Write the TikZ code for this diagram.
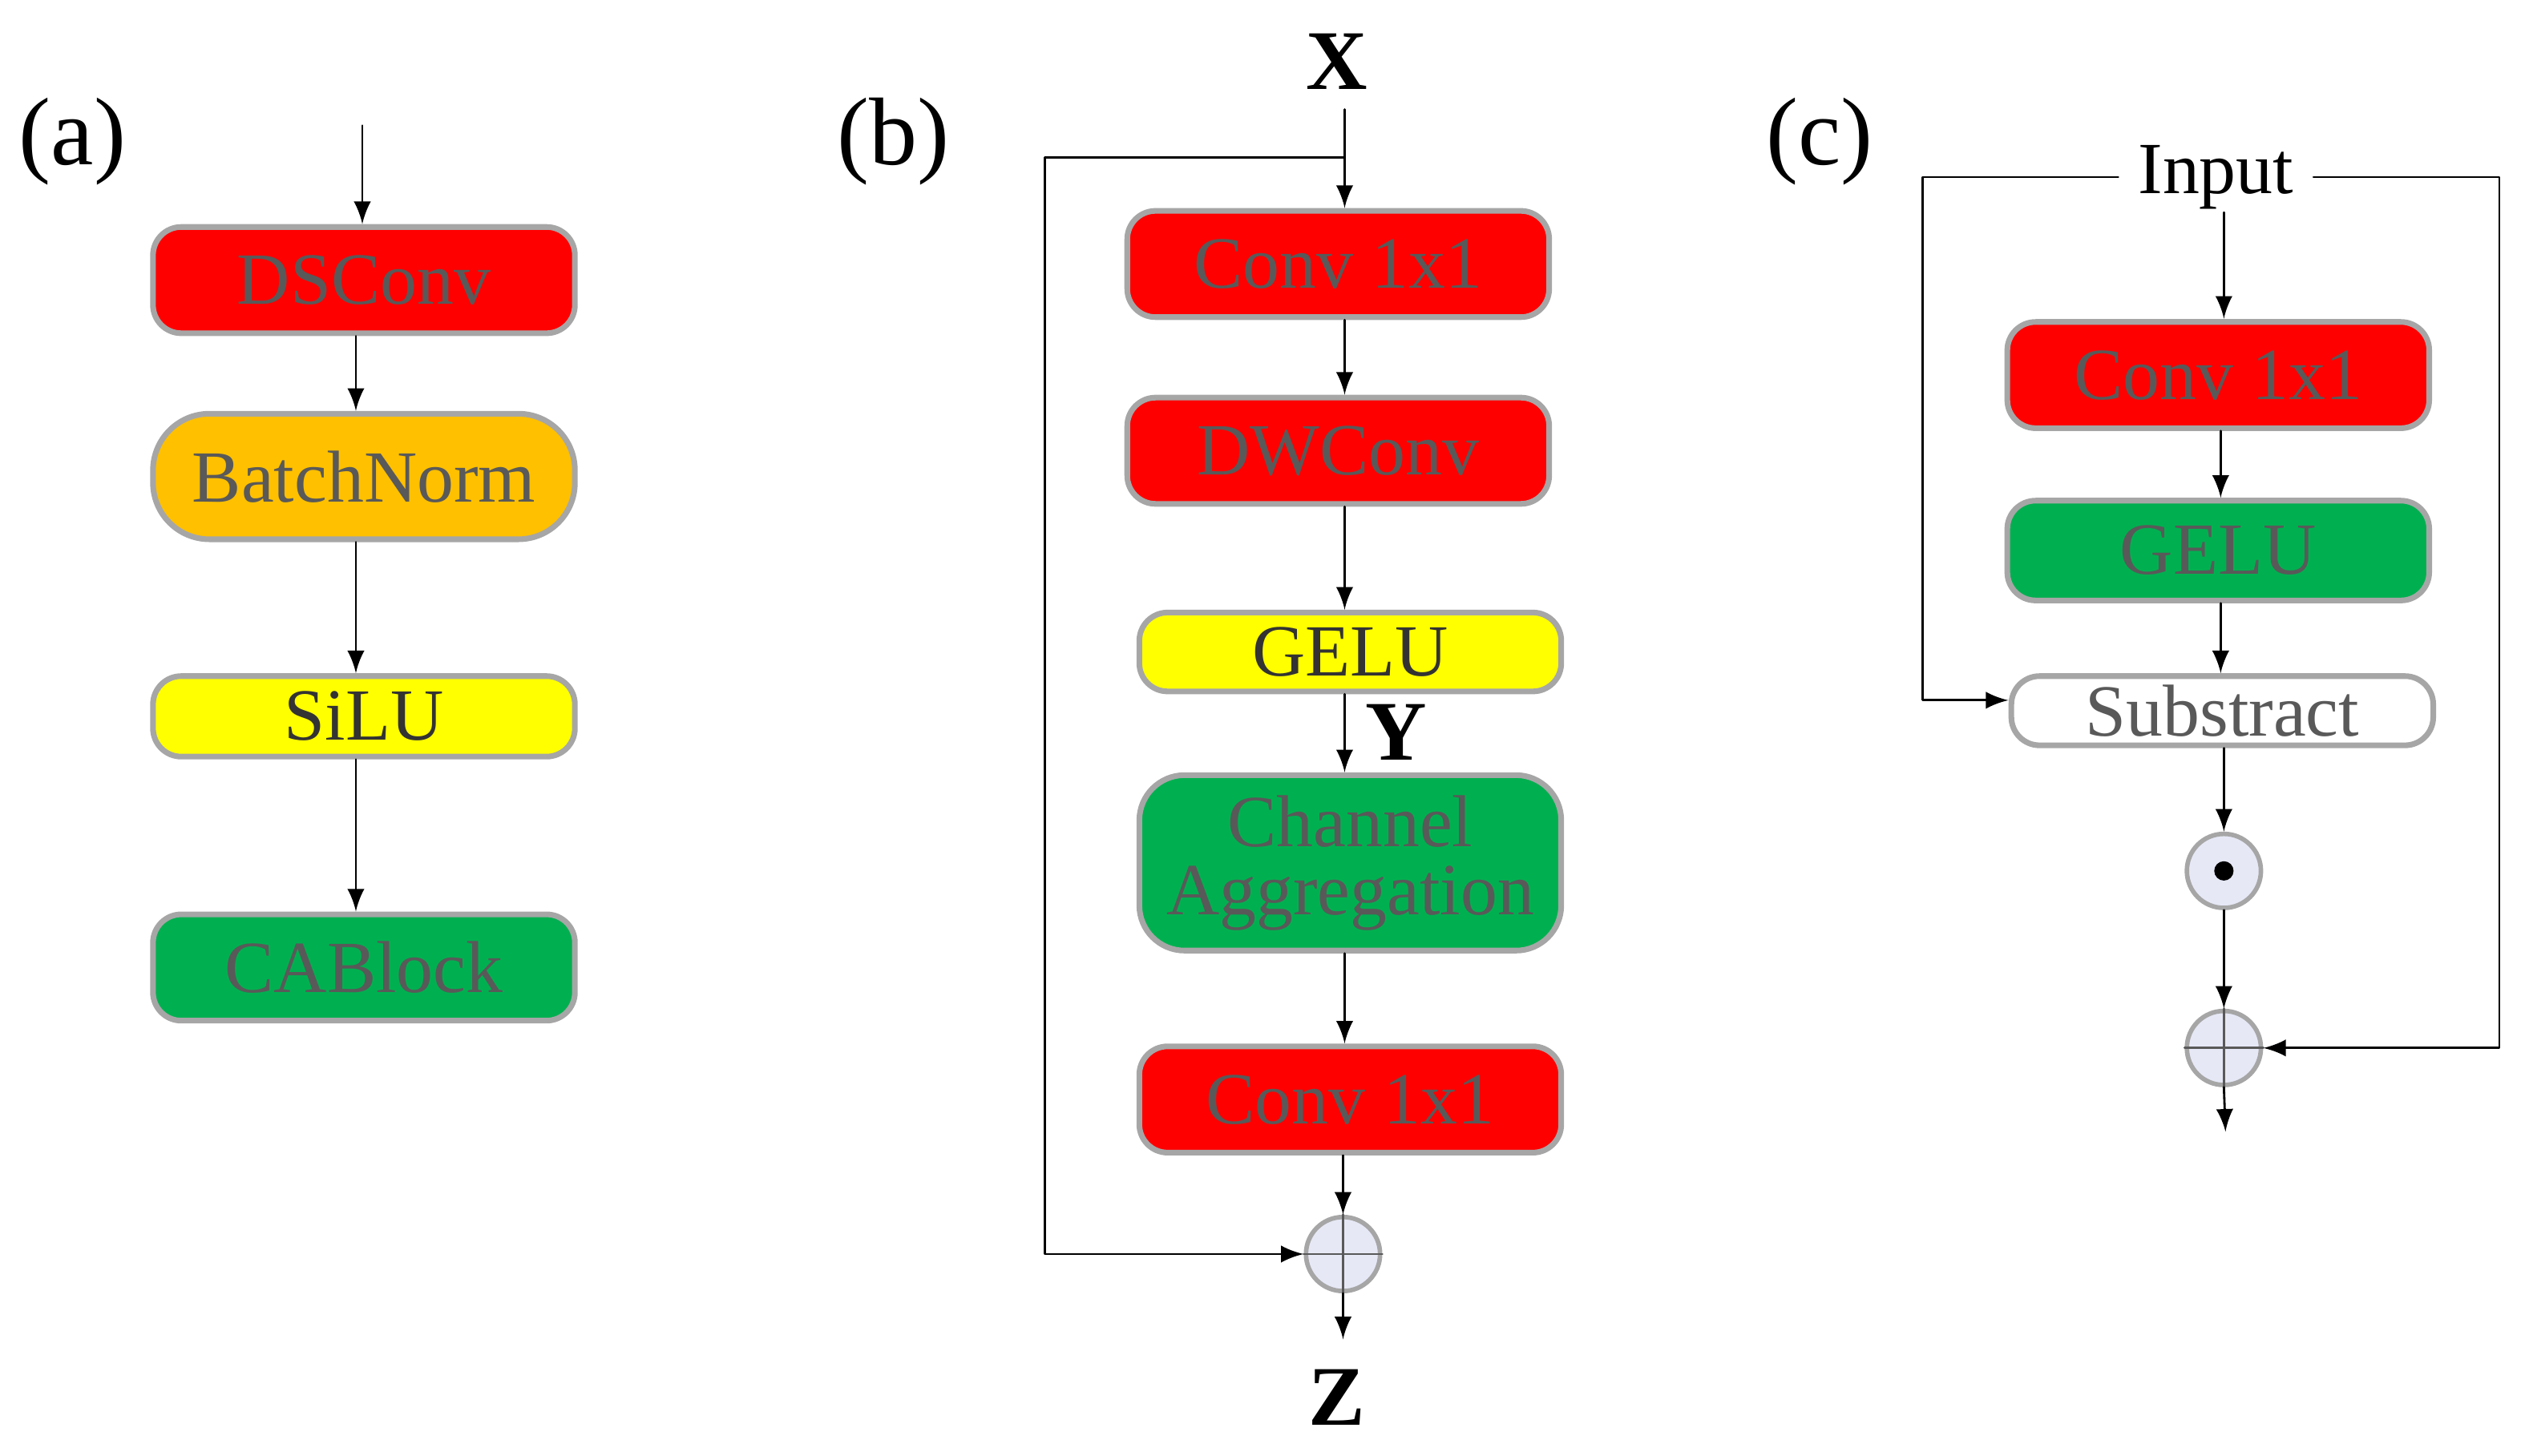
\documentclass[tikz,border=0pt]{standalone}
\usepackage{fontspec}
\setmainfont{Liberation Serif}
\usetikzlibrary{positioning}
\definecolor{boxred}{HTML}{FF0000}
\definecolor{boxorange}{HTML}{FFC000}
\definecolor{boxyellow}{HTML}{FFFF00}
\definecolor{boxgreen}{HTML}{00B050}
\definecolor{txtgray}{HTML}{595959}
\definecolor{edgegray}{HTML}{A6A6A6}
\definecolor{opfill}{HTML}{E6E8F6}
\begin{document}
\begin{tikzpicture}[line cap=round, line join=round,
    blk/.style={draw=edgegray, line width=1pt, rounded corners=5pt, minimum width=2.62cm,
        text=txtgray, font=\fontsize{13}{13}\selectfont, inner sep=0pt, align=center},
    op/.style={circle, draw=edgegray, fill=opfill, line width=0.8pt, minimum size=0.46cm, inner sep=0pt},
    lbl/.style={font=\fontsize{17}{17}\selectfont},
    arr/.style={->, >=latex, thin}]
    \useasboundingbox (0,0) rectangle (15.68,-9.04);
    % (a)
    \node[lbl] (la) at (0.45,-0.88) {(a)};
    \coordinate (ain) at (2.25,-0.78);
    \node[blk, fill=boxred, minimum height=0.66cm] (dsconv) at (2.26,-1.74) {DSConv};
    \node[blk, fill=boxorange, minimum height=0.78cm, rounded corners=10pt] (bn) at (2.26,-2.96) {BatchNorm};
    \node[blk, fill=boxyellow, minimum height=0.5cm, text=black!80] (silu) at (2.26,-4.45) {SiLU};
    \node[blk, fill=boxgreen, minimum height=0.66cm] (cab) at (2.26,-6.01) {CABlock};
    \draw[arr] (ain) -- (ain |- dsconv.north);
    \draw[arr] (dsconv.south -| 2.21,0) -- (bn.north -| 2.21,0);
    \draw[arr] (bn.south -| 2.21,0) -- (silu.north -| 2.21,0);
    \draw[arr] (silu.south -| 2.21,0) -- (cab.north -| 2.21,0);
    % (b)
    \node[lbl] (lb) at (5.55,-0.88) {(b)};
    \node[font=\bfseries\fontsize{15}{15}\selectfont] (x) at (8.30,-0.38) {X};
    \node[blk, fill=boxred, minimum height=0.66cm] (conva) at (8.31,-1.64) {Conv 1x1};
    \node[blk, fill=boxred, minimum height=0.66cm] (dw) at (8.31,-2.80) {DWConv};
    \node[blk, fill=boxyellow, minimum height=0.49cm, text=black!80] (gelub) at (8.385,-4.05) {GELU};
    \node[blk, fill=boxgreen, minimum height=1.09cm, rounded corners=8pt] (ca) at (8.385,-5.36) {Channel\\[-1pt]Aggregation};
    \node[blk, fill=boxred, minimum height=0.66cm] (convb) at (8.385,-6.83) {Conv 1x1};
    \node[op] (addb) at (8.34,-7.79) {};
    \draw[txtgray] (addb.north) -- (addb.south) (addb.west) -- (addb.east);
    \node[font=\bfseries\fontsize{15}{15}\selectfont] (y) at (8.67,-4.55) {Y};
    \node[font=\bfseries\fontsize{15}{15}\selectfont] (z) at (8.30,-8.68) {Z};
    \coordinate (bsplit) at (8.35,-0.98);
    \coordinate (bout) at (8.34,-8.32);
    \draw (8.35,-0.68) -- (bsplit);
    \draw[arr] (bsplit) -- (bsplit |- conva.north);
    \draw[arr] (conva.south -| 8.35,0) -- (dw.north -| 8.35,0);
    \draw[arr] (dw.south -| 8.35,0) -- (gelub.north -| 8.35,0);
    \draw[arr] (gelub.south -| 8.35,0) -- (ca.north -| 8.35,0);
    \draw[arr] (ca.south -| 8.35,0) -- (convb.north -| 8.35,0);
    \draw[arr] (convb.south -| 8.34,0) -- (addb.north);
    \draw[arr] (addb.south) -- (bout);
    \draw[arr] (bsplit) -- (6.49,-0.98) -- (6.49,-7.79) -- (addb.west);
    % (c)
    \node[lbl] (lc) at (11.30,-0.88) {(c)};
    \node[font=\fontsize{13}{13}\selectfont] (inp) at (13.76,-1.10) {Input};
    \node[blk, fill=boxred, minimum height=0.66cm] (convc) at (13.775,-2.33) {Conv 1x1};
    \node[blk, fill=boxgreen, minimum height=0.62cm] (geluc) at (13.775,-3.42) {GELU};
    \node[blk, fill=white, minimum height=0.43cm] (sub) at (13.80,-4.415) {Substract};
    \node[op] (dot) at (13.81,-5.41) {};
    \fill[black] (dot) circle (0.06);
    \node[op] (addc) at (13.81,-6.51) {};
    \draw[txtgray] (addc.north) -- (addc.south) (addc.west) -- (addc.east);
    \coordinate (cout) at (13.82,-7.03);
    \draw[arr] (13.81,-1.32) -- (13.81,-1.98);
    \draw[arr] (convc.south -| 13.79,0) -- (geluc.north -| 13.79,0);
    \draw[arr] (geluc.south -| 13.79,0) -- (sub.north -| 13.79,0);
    \draw[arr] (sub.south -| 13.81,0) -- (dot.north);
    \draw[arr] (dot.south) -- (addc.north);
    \draw[arr] (addc.south) -- (cout);
    \draw[arr] (inp.west) -- (11.94,-1.10) -- (11.94,-4.35) -- (sub.west |- 0,-4.35);
    \draw[arr] (inp.east) -- (15.52,-1.10) -- (15.52,-6.51) -- (addc.east);
\end{tikzpicture}
\end{document}
